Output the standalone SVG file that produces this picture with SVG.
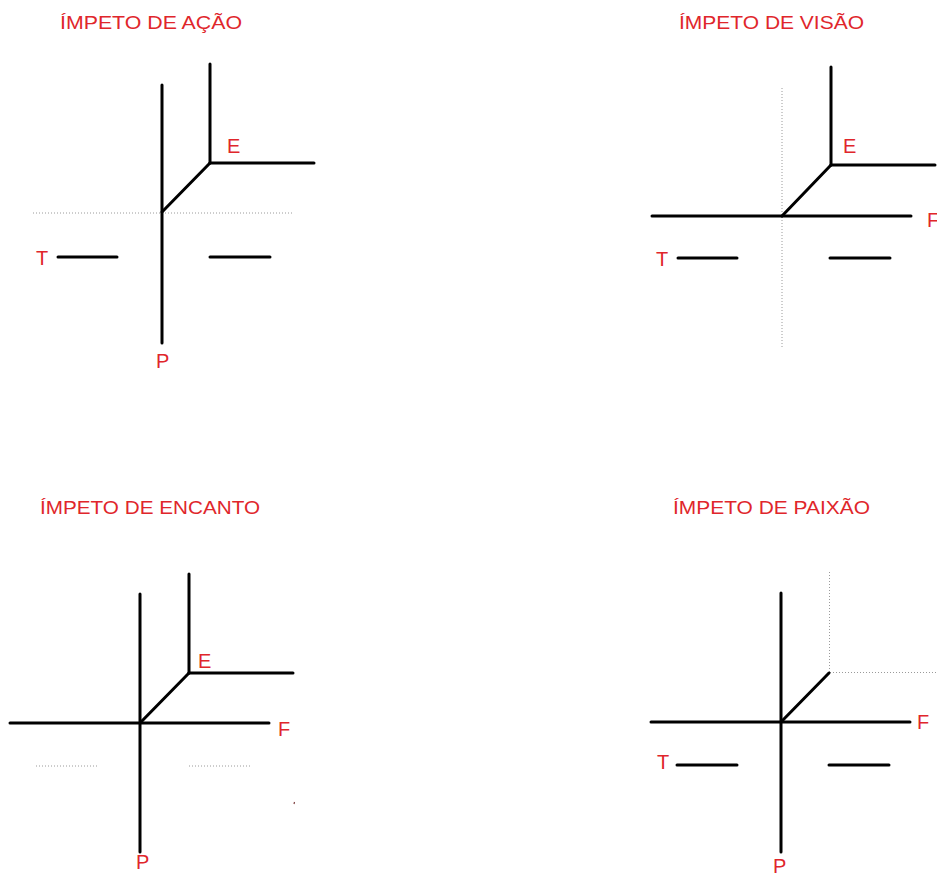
<svg xmlns="http://www.w3.org/2000/svg" width="937" height="877" viewBox="0 0 937 877">
  <style>
    .bg { fill: #ffffff; }
    .axis { stroke: #000000; stroke-width: 3; stroke-linecap: round; fill: none; }
    .guide { stroke: #9a9a9a; stroke-width: 1; stroke-dasharray: 1 2; fill: none; }
    .title { font-family: "Liberation Sans", "DejaVu Sans", sans-serif; font-size: 19px; fill: #e0262b; }
    .lbl { font-family: "Liberation Sans", "DejaVu Sans", sans-serif; font-size: 20px; fill: #e0262b; }
  </style>
  <rect class="bg" x="0" y="0" width="937" height="877"/>

  <!-- Panel: action -->
  <g id="acao">
    <text class="title" x="60" y="29" textLength="182" lengthAdjust="spacingAndGlyphs">ÍMPETO DE AÇÃO</text>
    <g id="acao-lines">
      <line class="guide" x1="33" y1="213" x2="292" y2="213"/>
      <line class="axis" x1="162" y1="85" x2="162" y2="343"/>
      <line class="axis" x1="210" y1="64" x2="210" y2="163"/>
      <line class="axis" x1="210" y1="163" x2="314" y2="163"/>
      <line class="axis" x1="162" y1="212" x2="210" y2="163"/>
      <line class="axis" x1="58" y1="257" x2="117" y2="257"/>
      <line class="axis" x1="210" y1="257" x2="270" y2="257"/>
    </g>
    <text class="lbl" x="36" y="265">T</text>
    <text class="lbl" x="227" y="153">E</text>
    <text class="lbl" x="156" y="368">P</text>
  </g>

  <!-- Panel: vision -->
  <g id="visao">
    <text class="title" x="679" y="29" textLength="185" lengthAdjust="spacingAndGlyphs">ÍMPETO DE VISÃO</text>
    <g id="visao-lines">
      <line class="guide" x1="782" y1="88" x2="782" y2="347"/>
      <line class="axis" x1="831" y1="67" x2="831" y2="165"/>
      <line class="axis" x1="831" y1="165" x2="935" y2="165"/>
      <line class="axis" x1="782" y1="216" x2="831" y2="165"/>
      <line class="axis" x1="652" y1="216" x2="911" y2="216"/>
      <line class="axis" x1="678" y1="258" x2="737" y2="258"/>
      <line class="axis" x1="830" y1="258" x2="890" y2="258"/>
    </g>
    <text class="lbl" x="656" y="266">T</text>
    <text class="lbl" x="843" y="153">E</text>
    <text class="lbl" x="927" y="227">F</text>
  </g>

  <!-- Panel: charm -->
  <g id="encanto">
    <text class="title" x="40" y="514" textLength="220" lengthAdjust="spacingAndGlyphs">ÍMPETO DE ENCANTO</text>
    <g id="encanto-lines">
      <line class="guide" x1="36" y1="766" x2="97" y2="766"/>
      <line class="guide" x1="189" y1="766" x2="250" y2="766"/>
      <line class="axis" x1="140" y1="594" x2="140" y2="852"/>
      <line class="axis" x1="189" y1="574" x2="189" y2="673"/>
      <line class="axis" x1="189" y1="673" x2="293" y2="673"/>
      <line class="axis" x1="140" y1="723" x2="189" y2="673"/>
      <line class="axis" x1="10" y1="723" x2="269" y2="723"/>
      <line x1="294.5" y1="802" x2="294" y2="804" stroke="#7a3a3a" stroke-width="1.2"/>
    </g>
    <text class="lbl" x="198" y="668">E</text>
    <text class="lbl" x="278" y="736">F</text>
    <text class="lbl" x="136" y="869">P</text>
  </g>

  <!-- Panel: passion -->
  <g id="paixao">
    <text class="title" x="673" y="514" textLength="197" lengthAdjust="spacingAndGlyphs">ÍMPETO DE PAIXÃO</text>
    <g id="paixao-lines">
      <line class="guide" x1="829.5" y1="572" x2="829.5" y2="672"/>
      <line class="guide" x1="830" y1="672.5" x2="937" y2="672.5"/>
      <line class="axis" x1="781" y1="593" x2="781" y2="852"/>
      <line class="axis" x1="781" y1="722" x2="829" y2="673"/>
      <line class="axis" x1="651" y1="722" x2="910" y2="722"/>
      <line class="axis" x1="677" y1="765" x2="737" y2="765"/>
      <line class="axis" x1="829" y1="765" x2="889" y2="765"/>
    </g>
    <text class="lbl" x="917" y="729">F</text>
    <text class="lbl" x="657" y="769">T</text>
    <text class="lbl" x="773" y="873">P</text>
  </g>
</svg>
